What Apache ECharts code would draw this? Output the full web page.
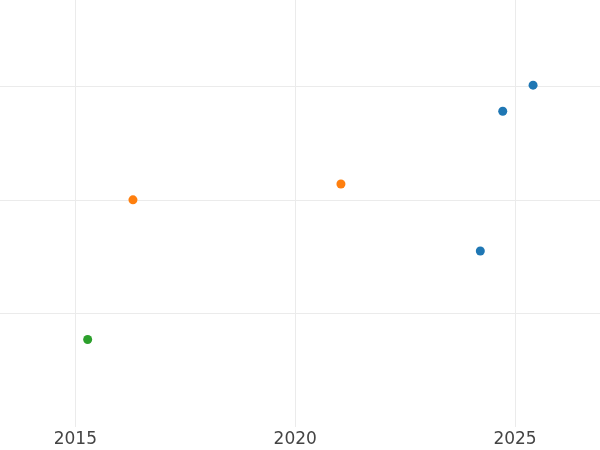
<!DOCTYPE html>
<html>
<head>
<meta charset="utf-8">
<script src="https://cdn.jsdelivr.net/npm/echarts@6/dist/echarts.min.js"></script>
<style>html,body{margin:0;padding:0;background:#fff}#c{width:600px;height:450px}</style>
</head>
<body>
<div id="c"></div>
<script>
var blueX = [2025.41, 2024.72, 2024.21];
var blueY = [3.01, 2.78, 1.55];
var orangeX = [2016.31, 2021.04];
var orangeY = [2.0, 2.14];
var greenX = [2015.28];
var greenY = [0.77];

function pts(xs, ys) { return xs.map(function (x, i) { return [x, ys[i]]; }); }

var chart = echarts.init(document.getElementById('c'));
chart.setOption({
  animation: false,
  backgroundColor: '#fff',
  grid: { left: -144.5, right: -134.9, top: 0, bottom: 23, containLabel: false, outerBoundsMode: 'none' },
  xAxis: {
    type: 'value', min: 2010, max: 2030, interval: 5,
    axisLine: { show: false }, axisTick: { show: false },
    axisLabel: { color: '#444', fontSize: 17, fontFamily: 'DejaVu Sans', margin: 4,
      formatter: function (v) { return String(v); } },
    splitLine: { show: true, lineStyle: { color: '#ebebeb', width: 1 } }
  },
  yAxis: {
    type: 'value', min: 0, max: 3.76, interval: 1,
    axisLine: { show: false }, axisTick: { show: false }, axisLabel: { show: false },
    splitLine: { show: true, showMinLine: false, showMaxLine: false, lineStyle: { color: '#ebebeb', width: 1 } }
  },
  series: [
    { type: 'scatter', data: pts(blueX, blueY), symbolSize: 9, itemStyle: { color: '#1f77b4', opacity: 1 } },
    { type: 'scatter', data: pts(orangeX, orangeY), symbolSize: 9, itemStyle: { color: '#ff7f0e', opacity: 1 } },
    { type: 'scatter', data: pts(greenX, greenY), symbolSize: 9, itemStyle: { color: '#2ca02c', opacity: 1 } }
  ]
});
</script>
</body>
</html>
